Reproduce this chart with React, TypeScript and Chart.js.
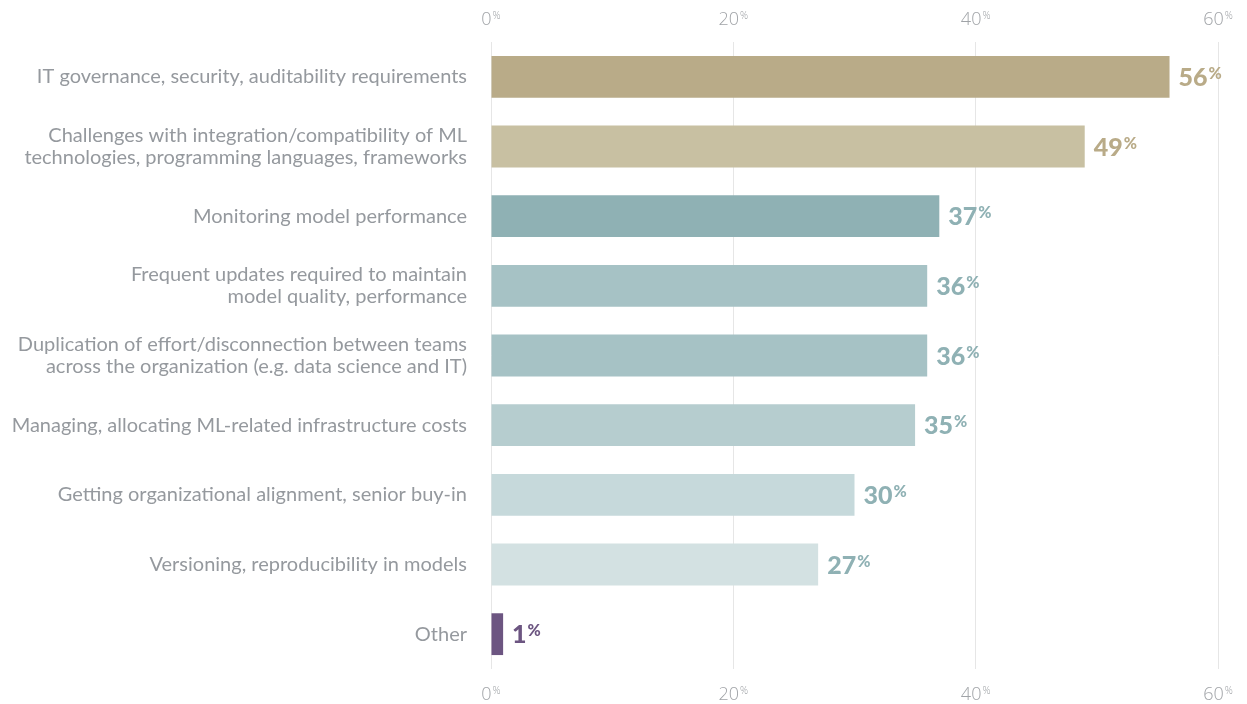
import React, { useEffect, useRef } from "react";
import { Chart, registerables } from "chart.js";

Chart.register(...registerables);

const categories: (string | string[])[] = [
  "IT governance, security, auditability requirements",
  ["Challenges with integration/compatibility of ML", "technologies, programming languages, frameworks"],
  "Monitoring model performance",
  ["Frequent updates required to maintain", "model quality, performance"],
  ["Duplication of effort/disconnection between teams", "across the organization (e.g. data science and IT)"],
  "Managing, allocating ML-related infrastructure costs",
  "Getting organizational alignment, senior buy-in",
  "Versioning, reproducibility in models",
  "Other",
];

const values: number[] = [56, 49, 37, 36, 36, 35, 30, 27, 1];

const barColors: string[] = [
  "#b9ab88",
  "#c8c0a2",
  "#8fb1b4",
  "#a6c2c5",
  "#a6c2c5",
  "#b6cdcf",
  "#c6d9db",
  "#d3e1e2",
  "#6c5581",
];

const labelColors: string[] = [
  "#b9ab88",
  "#b9ab88",
  "#8fb1b4",
  "#8fb1b4",
  "#8fb1b4",
  "#8fb1b4",
  "#8fb1b4",
  "#8fb1b4",
  "#6c5581",
];

const axisMin = 0;
const axisMax = 60;
const axisStep = 20;

const valueLabelsPlugin = {
  id: "valueLabels",
  afterDatasetsDraw(chart: any) {
    const ctx = chart.ctx;
    const meta = chart.getDatasetMeta(0);
    ctx.save();
    meta.data.forEach((bar: any, i: number) => {
      const x0 = bar.x + 9;
      const cy = bar.y;
      const num = String(values[i]);
      ctx.fillStyle = labelColors[i];
      ctx.font = "900 25px Lato";
      ctx.textAlign = "left";
      ctx.textBaseline = "alphabetic";
      ctx.fillText(num, x0, cy + 9);
      const w = ctx.measureText(num).width;
      ctx.font = "900 16px Lato";
      ctx.fillText("%", x0 + w + 1, cy + 2);
    });
    ctx.restore();
  },
};

const tickLabelsPlugin = {
  id: "tickLabels",
  afterDraw(chart: any) {
    const ctx = chart.ctx;
    ctx.save();
    ctx.fillStyle = "#a0a3a7";
    ctx.textAlign = "left";
    ctx.textBaseline = "alphabetic";
    const drawFor = (scale: any, baseY: number) => {
      scale.ticks.forEach((t: any) => {
        const px = scale.getPixelForValue(t.value);
        const num = String(t.value);
        ctx.font = "300 18px 'Open Sans'";
        const wN = ctx.measureText(num).width;
        ctx.font = "300 10px 'Open Sans'";
        const wP = ctx.measureText("%").width;
        const start = px - (wN + wP + 1) / 2;
        ctx.font = "300 18px 'Open Sans'";
        ctx.fillText(num, start, baseY);
        ctx.font = "300 10px 'Open Sans'";
        ctx.fillText("%", start + wN + 1, baseY - 6);
      });
    };
    drawFor(chart.scales.x, 25);
    drawFor(chart.scales.x2, 700);
    ctx.restore();
  },
};

export default function App() {
  const canvasRef = useRef<HTMLCanvasElement | null>(null);

  useEffect(() => {
    document.body.style.margin = "0";
    const canvas = canvasRef.current;
    if (!canvas) return;
    const chart = new Chart(canvas, {
      type: "bar",
      data: {
        labels: categories,
        datasets: [
          {
            data: values,
            backgroundColor: barColors,
            borderWidth: 0,
            barPercentage: 0.6,
            categoryPercentage: 1,
            xAxisID: "x",
          },
        ],
      },
      options: {
        indexAxis: "y",
        responsive: false,
        animation: false,
        layout: { padding: { left: 0, right: 29, top: 0, bottom: 0 } },
        plugins: {
          legend: { display: false },
          tooltip: { enabled: false },
        },
        scales: {
          x: {
            position: "top",
            min: axisMin,
            max: axisMax,
            ticks: { display: false, stepSize: axisStep },
            grid: { color: "#e6e6e6", drawTicks: false, lineWidth: 1 },
            border: { display: false },
            afterFit: (scale: any) => {
              scale.height = 42;
            },
          },
          x2: {
            position: "bottom",
            min: axisMin,
            max: axisMax,
            ticks: { display: false, stepSize: axisStep },
            grid: { display: false, drawTicks: false },
            border: { display: false },
            afterFit: (scale: any) => {
              scale.height = 33;
            },
          },
          y: {
            ticks: {
              color: "#95999e",
              font: { family: "Lato", size: 20, lineHeight: 1.1 },
              padding: 24,
            },
            grid: { display: false, drawTicks: false },
            border: { display: false },
            afterFit: (scale: any) => {
              scale.width = 491;
            },
          },
        },
      },
      plugins: [valueLabelsPlugin, tickLabelsPlugin],
    });
    return () => chart.destroy();
  }, []);

  return (
    <div style={{ width: 1247, height: 704, background: "#fff" }}>
      <canvas ref={canvasRef} width={1247} height={704} />
    </div>
  );
}
